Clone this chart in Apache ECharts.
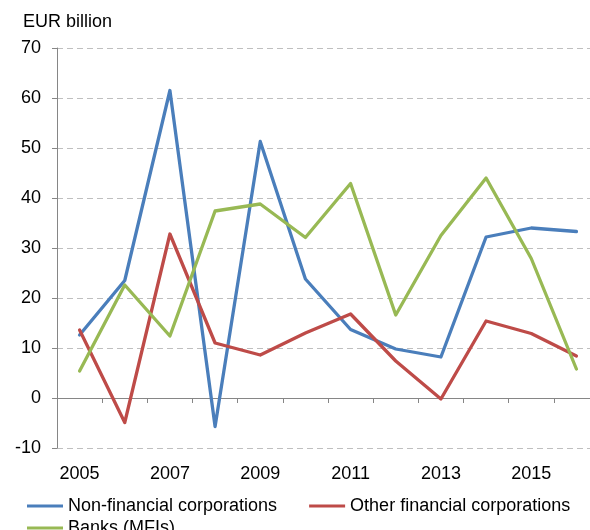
<!DOCTYPE html>
<html>
<head>
<meta charset="utf-8">
<script src="https://cdn.jsdelivr.net/npm/echarts@6/dist/echarts.min.js"></script>
<style>
html,body{margin:0;padding:0;background:#fff;overflow:hidden;width:590px;height:530px;}
#chart{width:600px;height:530px;}
</style>
</head>
<body>
<div id="chart"></div>
<script>
var years = ['2005','2006','2007','2008','2009','2010','2011','2012','2013','2014','2015','2016'];
var nonFinancial = [12.6, 23.5, 61.5, -5.7, 51.3, 23.8, 13.7, 9.8, 8.2, 32.2, 34.0, 33.3];
var otherFinancial = [13.6, -4.9, 32.8, 11.0, 8.6, 13.0, 16.8, 7.4, -0.2, 15.4, 12.9, 8.4];
var banks = [5.4, 22.6, 12.4, 37.4, 38.8, 32.1, 42.9, 16.6, 32.5, 44.0, 27.9, 5.8];
var yMin = -10, yMax = 70, yStep = 10;
var unitLabel = 'EUR billion';
var names = ['Non-financial corporations', 'Other financial corporations', 'Banks (MFIs)'];
var colors = ['#4a7ebb', '#be4b48', '#98b954'];

var FONT = '"Liberation Sans", Arial, sans-serif';
var chart = echarts.init(document.getElementById('chart'), null, {renderer: 'canvas'});

function line(i, data) {
  return {
    name: names[i], type: 'line', data: data, xAxisIndex: 0, yAxisIndex: 0,
    symbol: 'none', smooth: false,
    lineStyle: {color: colors[i], width: 3.3, cap: 'round', join: 'round'},
    itemStyle: {color: colors[i]}
  };
}

var legendCommon = {
  orient: 'horizontal', icon: 'rect', itemWidth: 36, itemHeight: 3,
  itemGap: 32, padding: 0,
  textStyle: {fontFamily: FONT, fontSize: 18, color: '#000'}
};

chart.setOption({
  animation: false,
  backgroundColor: '#fff',
  grid: {left: 57, top: 48, width: 542, bottom: 82, containLabel: false},
  graphic: [{
    type: 'text', left: 23, top: 13,
    style: {text: unitLabel, font: '18px ' + FONT, fill: '#000'}
  }],
  legend: [
    Object.assign({}, legendCommon, {left: 27, top: 497, width: 580, data: [names[0], names[1]]}),
    Object.assign({}, legendCommon, {left: 27, top: 519, data: [names[2]]})
  ],
  xAxis: [{
    type: 'category', data: years, boundaryGap: true, position: 'bottom',
    axisLine: {onZero: true, lineStyle: {color: '#868686', width: 1}},
    axisTick: {show: true, interval: 0, length: 5, lineStyle: {color: '#868686'}},
    axisLabel: {show: false},
    splitLine: {show: false}
  }, {
    type: 'category', data: years, boundaryGap: true, position: 'bottom',
    axisLine: {show: false, onZero: false},
    axisTick: {show: false},
    axisLabel: {show: true, interval: 1, margin: 17, fontFamily: FONT, fontSize: 18, color: '#000'},
    splitLine: {show: false}
  }],
  yAxis: {
    type: 'value', min: yMin, max: yMax, interval: yStep,
    axisLine: {show: true, lineStyle: {color: '#868686', width: 1}},
    axisTick: {show: true, length: 5, lineStyle: {color: '#868686'}},
    axisLabel: {margin: 16, fontFamily: FONT, fontSize: 18, color: '#000'},
    splitLine: {show: true, lineStyle: {color: '#bfbfbf', type: [6, 4], width: 1}}
  },
  series: [line(0, nonFinancial), line(1, otherFinancial), line(2, banks)]
});
</script>
</body>
</html>
